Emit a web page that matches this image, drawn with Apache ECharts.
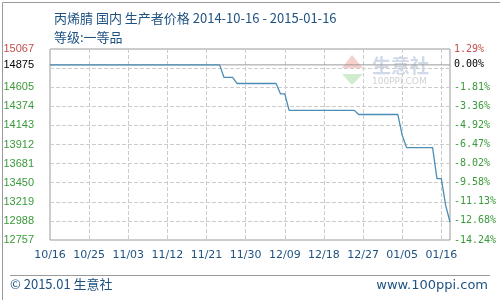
<!DOCTYPE html>
<html>
<head>
<meta charset="utf-8">
<script src="https://cdn.jsdelivr.net/npm/echarts@6/dist/echarts.min.js"></script>
<style>
html,body{margin:0;padding:0;background:#fff;}
#c{width:500px;height:300px;}
</style>
</head>
<body>
<div id="c"></div>
<script>
// ---- data ----
const titleText = '丙烯腈 国内 生产者价格 2014-10-16 - 2015-01-16';
const subtitleText = '等级:一等品';
const startDate = '2014-10-16';
const endDate = '2015-01-16';
const basePrice = 14875;
const pointDates = ['2014-10-16','2014-11-24','2014-11-25','2014-11-27','2014-11-28','2014-12-07','2014-12-08','2014-12-09','2014-12-10','2014-12-25','2014-12-26','2015-01-04','2015-01-05','2015-01-06','2015-01-12','2015-01-13','2015-01-14','2015-01-15','2015-01-16'];
const pointPrices = [14875,14875,14725,14725,14650,14650,14525,14525,14325,14325,14275,14275,14025,13875,13875,13500,13500,13175,12975];
const xTickLabels = ['10/16','10/25','11/03','11/12','11/21','11/30','12/09','12/18','12/27','01/05','01/16'];
const yMin = 12757, yMax = 15067, yStep = 231;
const leftTickValues = [12757,12988,13219,13450,13681,13912,14143,14374,14605,14875,15067];
const rightTickLabels = ['-14.24%','-12.68%','-11.13%','-9.58%','-8.02%','-6.47%','-4.92%','-3.36%','-1.81%','0.00%','1.29%'];
const footerLeft = '© 2015.01 生意社';
const footerRight = 'www.100ppi.com';

// ---- build ----
const DAY = 86400000;
const t0 = Date.parse(startDate);
const totalDays = (Date.parse(endDate) - t0) / DAY;
const xStep = 9;
const seriesData = pointDates.map((d, i) => [(Date.parse(d) - t0) / DAY, pointPrices[i]]);
const gridValues = [];
for (let v = yMin; v <= yMax + 0.5; v += yStep) gridValues.push(v);

function priceColor(v) {
  v = Number(v);
  if (v > basePrice) return '#c0504d';
  if (v === basePrice) return '#000000';
  return '#3a9a3a';
}

const chart = echarts.init(document.getElementById('c'), null, {renderer: 'canvas'});
const blue = '#1e5282';
chart.setOption({
  animation: false,
  backgroundColor: '#ffffff',
  title: [
    {text: titleText, left: 49, top: 7, textStyle: {fontSize: 13, fontWeight: 'normal', color: blue, fontFamily: 'Noto Sans CJK SC'}},
    {text: subtitleText, left: 49, top: 26, textStyle: {fontSize: 13, fontWeight: 'normal', color: blue, fontFamily: 'Noto Sans CJK SC'}}
  ],
  grid: {left: 50, top: 49, width: 400, height: 191, show: true, borderColor: '#9a9a9a', borderWidth: 1, backgroundColor: 'transparent'},
  xAxis: {
    type: 'value', min: 0, max: totalDays, interval: xStep,
    axisLine: {show: false}, axisTick: {show: false},
    splitLine: {show: true, lineStyle: {type: 'dashed', color: '#cccccc', width: 1}},
    axisLabel: {
      margin: 10, fontSize: 11, color: blue, fontFamily: 'DejaVu Sans', showMaxLabel: false,
      formatter: function (v) {
        if (v % xStep !== 0) return '';
        const i = v / xStep;
        return i < xTickLabels.length ? xTickLabels[i] : '';
      }
    }
  },
  yAxis: [
    {
      type: 'value', min: yMin, max: yMax, interval: yStep, position: 'left',
      axisLine: {show: false},
      axisTick: {show: false, customValues: gridValues},
      splitLine: {show: true, lineStyle: {type: 'dashed', color: '#cccccc', width: 1}},
      axisLabel: {
        customValues: leftTickValues, margin: 16, fontSize: 11, fontFamily: 'Liberation Sans',
        formatter: function (v) { return String(v); },
        color: function (v) { return priceColor(v); }
      }
    },
    {
      type: 'value', min: yMin, max: yMax, interval: yStep, position: 'right',
      axisLine: {show: false},
      axisTick: {show: false, customValues: gridValues},
      splitLine: {show: false},
      axisLabel: {
        customValues: leftTickValues, margin: 4, fontSize: 10, fontFamily: 'DejaVu Sans Mono',
        formatter: function (v) {
          const i = leftTickValues.indexOf(Number(v));
          return i >= 0 ? rightTickLabels[i] : '';
        },
        color: function (v) { return priceColor(v); }
      }
    }
  ],
  series: [
    {
      type: 'line', z: 1, silent: true, symbol: 'none',
      data: [[0, basePrice], [totalDays, basePrice]],
      lineStyle: {color: '#9a9a9a', width: 1}
    },
    {
      type: 'line', z: 3, symbol: 'none', data: seriesData,
      lineStyle: {color: '#4a8db5', width: 1.3}
    }
  ],
  graphic: [
    {type: 'rect', left: 0, top: 0, shape: {x: 0.5, y: 0.5, width: 499, height: 299}, style: {fill: 'none', stroke: '#9a9a9a', lineWidth: 1}, silent: true, z: 100},
    {type: 'line', shape: {x1: 10, y1: 275.5, x2: 490, y2: 275.5}, style: {stroke: '#9a9a9a', lineWidth: 1}, silent: true},
    {type: 'text', left: 10, top: 278, style: {text: footerLeft, fontSize: 13, fill: blue, fontFamily: 'Noto Sans CJK SC'}, silent: true},
    {type: 'text', right: 12, top: 279, style: {text: footerRight, fontSize: 13, fill: blue, fontFamily: 'DejaVu Sans'}, silent: true},
    // faint watermark logo
    {type: 'polygon', shape: {points: [[352, 55], [363, 68], [342, 68]]}, style: {fill: 'rgba(230,120,110,0.35)'}, silent: true},
    {type: 'polygon', shape: {points: [[342, 74], [363, 74], [352, 85]]}, style: {fill: 'rgba(120,200,120,0.35)'}, silent: true},
    {type: 'text', left: 372, top: 56, style: {text: '生意社', fontSize: 19, fontWeight: 'bold', fill: 'rgba(150,170,205,0.45)', fontFamily: 'Noto Sans CJK SC'}, silent: true},
    {type: 'text', left: 372, top: 77, style: {text: '100PPI.COM', fontSize: 9, fill: 'rgba(150,150,150,0.45)', fontFamily: 'DejaVu Sans'}, silent: true}
  ]
});
</script>
</body>
</html>
